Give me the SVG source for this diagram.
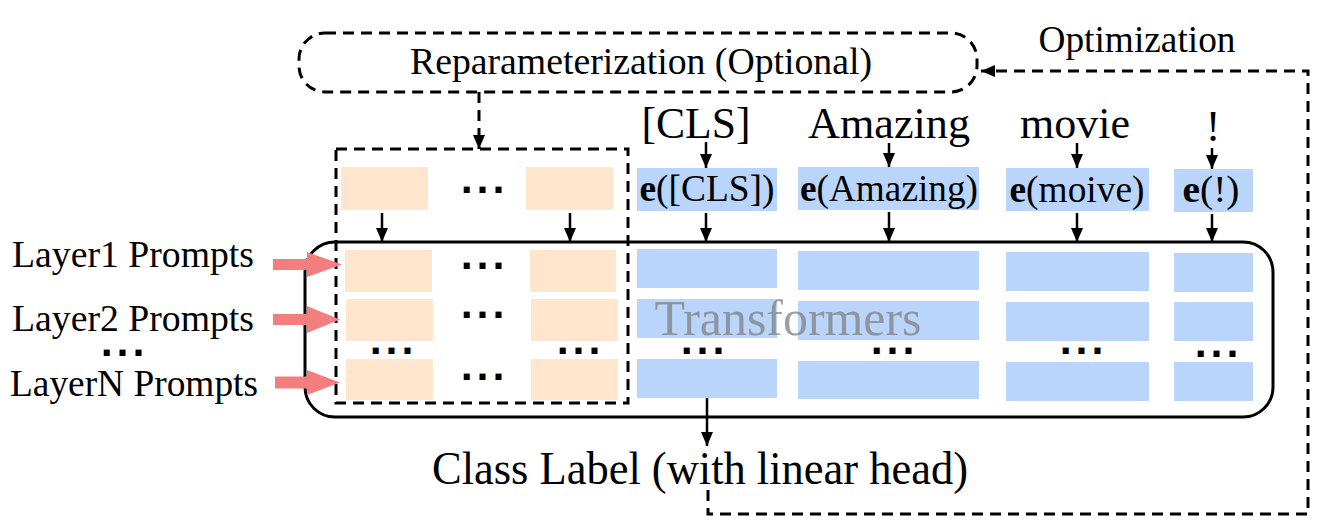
<svg xmlns="http://www.w3.org/2000/svg" width="1318" height="521" viewBox="0 0 1318 521">
<style>
.t{font-family:"Liberation Serif","Times New Roman",serif;fill:#000}
.dots{font-family:"DejaVu Sans",sans-serif;font-size:34px;font-weight:bold;text-anchor:middle;fill:#000;letter-spacing:3px}
.dash{fill:none;stroke:#000;stroke-width:3;stroke-dasharray:11 7}
.arr{fill:none;stroke:#000;stroke-width:2.5;marker-end:url(#ah)}
.pr{fill:#FFE6CC}
.bl{fill:#B9D5FB}
.red{fill:#F37E7E}
</style>
<defs>
<marker id="ah" markerUnits="userSpaceOnUse" markerWidth="14" markerHeight="12" refX="14" refY="6" orient="auto">
<path d="M0,0 L14,6 L0,12 z" fill="#000"/>
</marker>
</defs>

<g id="reparam">
<rect x="299" y="33" width="678" height="59" rx="26" class="dash"/>
<text class="t" x="641" y="74" font-size="38" text-anchor="middle" textLength="462" lengthAdjust="spacingAndGlyphs">Reparameterization (Optional)</text>
</g>

<g id="optimization-label">
<text class="t" x="1137" y="52" font-size="38" text-anchor="middle" textLength="197" lengthAdjust="spacingAndGlyphs">Optimization</text>
</g>

<g id="transformers">
<rect x="305" y="242" width="968" height="175" rx="30" fill="none" stroke="#000" stroke-width="3"/>
</g>

<g id="prompts">
<rect class="pr" x="341" y="167" width="87" height="43"/>
<rect class="pr" x="526" y="167" width="87" height="43"/>
<rect class="pr" x="345" y="250" width="87" height="42"/>
<rect class="pr" x="530" y="250" width="86" height="42"/>
<rect class="pr" x="346" y="299" width="87" height="42"/>
<rect class="pr" x="531" y="299" width="87" height="42"/>
<rect class="pr" x="346" y="359" width="87" height="41"/>
<rect class="pr" x="531" y="359" width="87" height="41"/>
<text class="dots" x="484" y="202">···</text>
<text class="dots" x="484" y="278">···</text>
<text class="dots" x="484" y="327">···</text>
<text class="dots" x="393" y="363">···</text>
<text class="dots" x="580" y="363">···</text>
<text class="dots" x="484" y="389">···</text>
<rect x="336" y="149" width="292" height="254" class="dash"/>
</g>

<g id="tokens">
<text class="t" x="696" y="138" font-size="44" text-anchor="middle" textLength="109" lengthAdjust="spacingAndGlyphs">[CLS]</text>
<text class="t" x="889" y="138" font-size="44" text-anchor="middle" textLength="162" lengthAdjust="spacingAndGlyphs">Amazing</text>
<text class="t" x="1075" y="138" font-size="44" text-anchor="middle" textLength="110" lengthAdjust="spacingAndGlyphs">movie</text>
<text class="t" x="1213" y="141" font-size="44" text-anchor="middle">!</text>
</g>

<g id="embeddings">
<rect class="bl" x="637" y="168" width="140" height="43"/>
<rect class="bl" x="798" y="167" width="181" height="43"/>
<rect class="bl" x="1006" y="168" width="143" height="43"/>
<rect class="bl" x="1174" y="169" width="79" height="43"/>
<text class="t" x="707" y="201" font-size="37" text-anchor="middle" textLength="135" lengthAdjust="spacingAndGlyphs"><tspan font-weight="bold">e</tspan>([CLS])</text>
<text class="t" x="889" y="201" font-size="37" text-anchor="middle" textLength="178" lengthAdjust="spacingAndGlyphs"><tspan font-weight="bold">e</tspan>(Amazing)</text>
<text class="t" x="1077" y="202" font-size="37" text-anchor="middle" textLength="135" lengthAdjust="spacingAndGlyphs"><tspan font-weight="bold">e</tspan>(moive)</text>
<text class="t" x="1211" y="202" font-size="37" text-anchor="middle" textLength="57" lengthAdjust="spacingAndGlyphs"><tspan font-weight="bold">e</tspan>(!)</text>
</g>

<g id="hidden-states">
<rect class="bl" x="637" y="249" width="140" height="39"/>
<rect class="bl" x="798" y="251" width="181" height="39"/>
<rect class="bl" x="1006" y="252" width="143" height="39"/>
<rect class="bl" x="1174" y="253" width="79" height="39"/>
<rect class="bl" x="637" y="299" width="140" height="39"/>
<rect class="bl" x="798" y="301" width="181" height="39"/>
<rect class="bl" x="1006" y="302" width="143" height="39"/>
<rect class="bl" x="1174" y="302" width="79" height="39"/>
<rect class="bl" x="637" y="359" width="140" height="39"/>
<rect class="bl" x="798" y="361" width="181" height="38"/>
<rect class="bl" x="1006" y="362" width="143" height="39"/>
<rect class="bl" x="1174" y="362" width="79" height="39"/>
<text class="dots" x="704" y="363">···</text>
<text class="dots" x="894" y="363">···</text>
<text class="dots" x="1083" y="363">···</text>
<text class="dots" x="1218" y="366">···</text>
<text class="t" x="788" y="335" font-size="50" text-anchor="middle" textLength="267" lengthAdjust="spacingAndGlyphs" opacity="0.75" style="fill:#808080">Transformers</text>
</g>

<g id="layer-labels">
<text class="t" x="12" y="267" font-size="37" textLength="242" lengthAdjust="spacingAndGlyphs">Layer1 Prompts</text>
<text class="t" x="12" y="331" font-size="37" textLength="242" lengthAdjust="spacingAndGlyphs">Layer2 Prompts</text>
<text class="dots" x="124" y="365">···</text>
<text class="t" x="10" y="396" font-size="37" textLength="248" lengthAdjust="spacingAndGlyphs">LayerN Prompts</text>
</g>

<g id="class-label">
<text class="t" x="700" y="484" font-size="46" text-anchor="middle" textLength="536" lengthAdjust="spacingAndGlyphs">Class Label (with linear head)</text>
</g>

<g id="connectors">
<line x1="479" y1="92" x2="479" y2="149" class="dash" marker-end="url(#ah)"/>
<path d="M708,490 V514 H1308 V71 H981" class="dash" marker-end="url(#ah)"/>
<line class="arr" x1="382" y1="213" x2="382" y2="242"/>
<line class="arr" x1="570" y1="213" x2="570" y2="242"/>
<line class="arr" x1="706" y1="142" x2="706" y2="168"/>
<line class="arr" x1="889" y1="143" x2="889" y2="167"/>
<line class="arr" x1="1077" y1="143" x2="1077" y2="168"/>
<line class="arr" x1="1212" y1="148" x2="1212" y2="169"/>
<line class="arr" x1="706" y1="213" x2="706" y2="242"/>
<line class="arr" x1="889" y1="212" x2="889" y2="242"/>
<line class="arr" x1="1077" y1="213" x2="1077" y2="242"/>
<line class="arr" x1="1212" y1="214" x2="1212" y2="242"/>
<line class="arr" x1="707" y1="398" x2="707" y2="446"/>
<polygon class="red" points="273,259 307,259 307,252 342,264.5 307,277 307,270 273,270"/>
<polygon class="red" points="273,314 307,314 307,306 340,319.5 307,333 307,325 273,325"/>
<polygon class="red" points="275,376.5 307,376.5 307,370 340,382.5 307,395 307,388.5 275,388.5"/>
</g>
</svg>
